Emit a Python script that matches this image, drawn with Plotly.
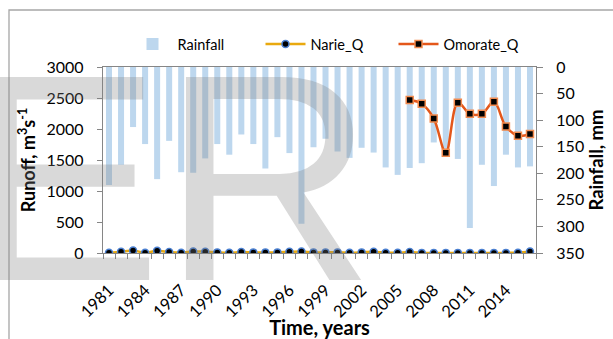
import plotly.graph_objects as go

years = list(range(1981, 2017))
rainfall = [222, 184, 113, 145, 211, 139, 198, 199, 172, 145, 165, 127, 145, 191, 132, 162, 295, 151,
            135, 159, 171, 152, 161, 189, 203, 190, 181, 142, 155, 173, 303, 184, 224, 165, 189, 187]
narie_q = [5, 20, 40, 5, 35, 15, 5, 25, 20, 10, 5, 15, 10, 10, 10, 20, 25, 10,
           10, 10, 5, 10, 20, 5, 5, 15, 2, 2, 2, 2, 2, 2, 2, 2, 5, 25]
omorate_q = [None] * 25 + [2466, 2406, 2168, 1618, 2425, 2244, 2244, 2438, 2039, 1893, 1920]
tick_years = list(range(1981, 2016, 3))

W, H = 613, 339
ML, MR, MT, MB = 103, 77, 67, 86
PW, PH = W - ML - MR, H - MT - MB

def px(x):
    return (x - ML) / PW

def py(y):
    return (H - MB - y) / PH

FONT = "Lato"
AX = "#868686"

fig = go.Figure()
# Rainfall on primary axis (drawn first / underneath), shown on the right
fig.add_trace(go.Bar(x=years, y=rainfall, name="Rainfall", yaxis="y",
                     marker=dict(color="#BDD7EE", line=dict(width=0)), width=0.5))
# Runoff series on the overlaying axis (drawn on top), shown on the left
fig.add_trace(go.Scatter(x=years, y=narie_q, name="Narie_Q", mode="lines+markers", yaxis="y2",
                         line=dict(color="#E9A90F", width=2.5, shape="spline"),
                         marker=dict(symbol="circle", size=7, color="black",
                                     line=dict(color="#4A7FD0", width=1.5))))
fig.add_trace(go.Scatter(x=years, y=omorate_q, name="Omorate_Q", mode="lines+markers", yaxis="y2",
                         line=dict(color="#E4571A", width=2.5, shape="spline"),
                         marker=dict(symbol="square", size=7, color="black",
                                     line=dict(color="#F28A4E", width=1.5))))

fig.update_layout(
    width=W, height=H,
    margin=dict(l=ML, r=MR, t=MT, b=MB, autoexpand=False),
    paper_bgcolor="white", plot_bgcolor="white",
    font=dict(family=FONT, size=16, color="black"),
    showlegend=True,
    legend=dict(orientation="h", x=px(327), xanchor="center", y=py(44), yanchor="middle",
                font=dict(size=14.5), itemwidth=40, entrywidth=78, traceorder="normal",
                bgcolor="rgba(0,0,0,0)"),
    xaxis=dict(range=[1980.5, 2016.5], tickmode="array", tickvals=tick_years,
               ticktext=[str(y) for y in tick_years], tickangle=-45, ticks="",
               tickfont=dict(size=16.5), ticklabelstandoff=20, automargin=False,
               showline=True, linecolor=AX, linewidth=1.3, mirror=True, showgrid=False, zeroline=False,
               minor=dict(ticks="outside", tick0=1980.5, dtick=1, ticklen=5, tickcolor=AX, showgrid=False),
               title=dict(text="<b>Time, years</b>", font=dict(size=20), standoff=6)),
    yaxis=dict(range=[350, 0], dtick=50, side="right", ticks="outside", ticklen=6, automargin=False,
               tickcolor=AX, showline=True, linecolor=AX, linewidth=1.3, showgrid=False, zeroline=False,
               ticklabelstandoff=10,
               title=dict(text="<b>Rainfall, mm</b>", font=dict(size=18.5), standoff=6)),
    yaxis2=dict(range=[0, 3000], dtick=500, overlaying="y", side="left", ticks="outside", ticklen=5,
                automargin=False,
                tickcolor=AX, showline=True, linecolor=AX, linewidth=1.3, showgrid=False, zeroline=False,
                ticklabelstandoff=10,
                title=dict(text="<b>Runoff, m<sup>3</sup>s<sup>-1</sup></b>", font=dict(size=18), standoff=6)),
    shapes=[dict(type="rect", xref="paper", yref="paper", x0=px(9), x1=px(W + 20), y0=py(H + 20), y1=py(10),
                 line=dict(color="#A6A6A6", width=1.3), fillcolor="rgba(0,0,0,0)", layer="below")],
    annotations=[dict(text="ER", xref="paper", yref="paper", x=px(377), y=py(345), xanchor="right",
                      yanchor="bottom", showarrow=False,
                      font=dict(family="Liberation Sans", size=295, color="rgba(128,128,128,0.3)"))],
)

fig.write_html("out.html")
